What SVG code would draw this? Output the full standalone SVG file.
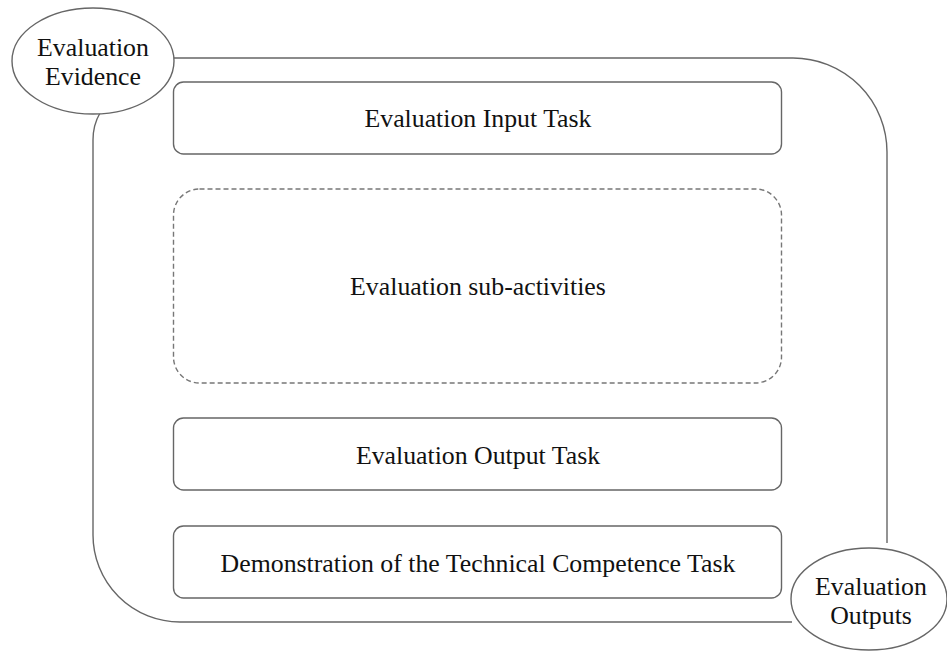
<svg xmlns="http://www.w3.org/2000/svg" width="947" height="652" viewBox="0 0 947 652">
<style>
.box{fill:#fff;stroke:#666;stroke-width:1.4}
.dash{fill:#fff;stroke:#777;stroke-width:1.4;stroke-dasharray:5 3}
.conn{fill:none;stroke:#666;stroke-width:1.4}
text{font-family:"Liberation Serif","Times New Roman",serif;font-size:25.8px;fill:#111;text-anchor:middle}
</style>
<rect width="947" height="652" fill="#fff"/>
<g id="connectors">
<path class="conn" d="M174,58 H793 A94,94 0 0 1 887,152 V543"/>
<path class="conn" d="M100,113 Q93,125 93,140 V535 A87,87 0 0 0 180,622 H792"/>
</g>
<g id="input-task"><rect class="box" x="173.5" y="82" width="608" height="72" rx="10"/><text x="478" y="127">Evaluation Input Task</text></g>
<g id="sub-activities"><rect class="dash" x="173.5" y="189" width="608" height="194" rx="26"/><text x="478" y="295">Evaluation sub-activities</text></g>
<g id="output-task"><rect class="box" x="173.5" y="418" width="608" height="72" rx="10"/><text x="478" y="464">Evaluation Output Task</text></g>
<g id="competence-task"><rect class="box" x="173.5" y="526" width="608" height="72" rx="10"/><text x="478" y="572">Demonstration of the Technical Competence Task</text></g>
<g id="evidence"><ellipse class="box" cx="93" cy="61" rx="81" ry="53"/><text x="93" y="56">Evaluation</text><text x="93" y="85">Evidence</text></g>
<g id="outputs"><ellipse class="box" cx="869" cy="599" rx="78" ry="51"/><text x="871" y="595">Evaluation</text><text x="871" y="624">Outputs</text></g>
</svg>
